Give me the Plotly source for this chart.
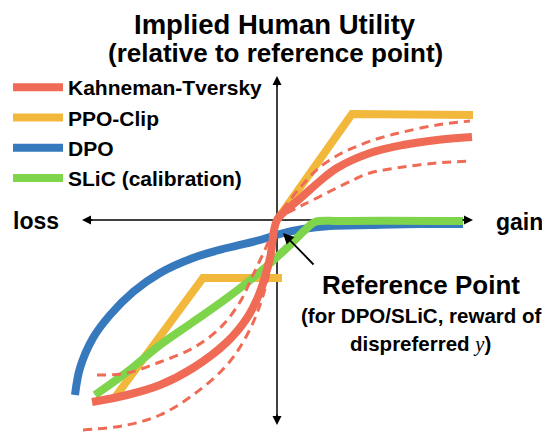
import plotly.graph_objects as go

# Utility relative to the reference point (x: gain(+)/loss(-), y: utility), arbitrary units
kt_x = [-185, -150, -117, -84, -50, -30, -17, -7, 0, 13, 26, 43, 60, 93, 126, 160, 195]
kt_y = [-182, -175, -165, -148, -122, -98, -72, -38, 0, 13, 24, 39, 52, 67, 75, 80, 83]

kt_a_x = [-180, -150, -117, -84, -57, -37, -24, -10, 0, 18, 36, 76, 93, 126, 160, 193]
kt_a_y = [-155, -153, -142, -128, -108, -82, -55, -25, 0, 11, 20, 40, 47, 53, 57, 59]

kt_b_x = [-194, -150, -117, -84, -50, -30, -17, -7, 0, 13, 28, 43, 63, 83, 103, 126, 160, 193]
kt_b_y = [-210, -205, -195, -175, -145, -115, -85, -48, 0, 20, 38, 53, 66, 75, 82, 88, 95, 99]

ppo_gain_x = [0, 75, 196]
ppo_gain_y = [0, 106, 105]
ppo_loss_x = [5, -74, -161]
ppo_loss_y = [-58, -58, -176]

dpo_x = [-202, -197, -184, -167, -144, -117, -84, -50, -17, 3, 26, 53, 93, 143, 186]
dpo_y = [-175, -148, -118, -95, -72, -53, -38, -28, -20, -14, -9, -6, -5, -4, -4]

slic_x = [-182, -150, -117, -84, -50, -17, 13, 28, 38, 63, 186]
slic_y = [-175, -152, -125, -102, -78, -52, -25, -10, -2, -1, -1]

RED = "#EF6B55"
YEL = "#F2B83C"
BLU = "#3679BD"
GRN = "#7ED44B"
LW = 8

fig = go.Figure()
fig.add_trace(go.Scatter(x=dpo_x, y=dpo_y, mode="lines", name="DPO",
                         line=dict(color=BLU, width=LW, shape="spline"), legendrank=3))
fig.add_trace(go.Scatter(x=ppo_gain_x, y=ppo_gain_y, mode="lines", name="PPO-Clip",
                         legendgroup="ppo", line=dict(color=YEL, width=LW), legendrank=2))
fig.add_trace(go.Scatter(x=ppo_loss_x, y=ppo_loss_y, mode="lines", name="PPO-Clip",
                         legendgroup="ppo", showlegend=False, line=dict(color=YEL, width=LW)))
fig.add_trace(go.Scatter(x=slic_x, y=slic_y, mode="lines", name="SLiC (calibration)",
                         line=dict(color=GRN, width=LW, shape="spline"), legendrank=4))
fig.add_trace(go.Scatter(x=kt_a_x, y=kt_a_y, mode="lines", showlegend=False,
                         line=dict(color=RED, width=3, dash="9px,6px", shape="spline")))
fig.add_trace(go.Scatter(x=kt_b_x, y=kt_b_y, mode="lines", showlegend=False,
                         line=dict(color=RED, width=3, dash="9px,6px", shape="spline")))
fig.add_trace(go.Scatter(x=kt_x, y=kt_y, mode="lines", name="Kahneman-Tversky",
                         line=dict(color=RED, width=LW, shape="spline"), legendrank=1))

FONT = "Liberation Sans"
OFF = 8  # page body margin
W, H = 550 - OFF, 435 - OFF

# axes lines
fig.add_shape(type="line", x0=-190, y0=0, x1=190, y1=0, line=dict(color="black", width=1.5), layer="below")
fig.add_shape(type="line", x0=0, y0=139, x1=0, y1=-200, line=dict(color="black", width=1.5), layer="below")
# arrow heads
for (tx, ty, ax, ay) in [(-195, 0, 12, 0), (196, 0, -12, 0), (0, 144, 0, 12), (0, -205, 0, -12)]:
    fig.add_annotation(x=tx, y=ty, ax=ax, ay=ay, axref="pixel", ayref="pixel", xref="x", yref="y",
                       text="", showarrow=True, arrowhead=2, arrowsize=1.2, arrowwidth=1.5,
                       arrowcolor="black")

# reference point annotation arrow
fig.add_annotation(x=6, y=-13, ax=38, ay=-46, axref="x", ayref="y", text="", showarrow=True,
                   arrowhead=2, arrowsize=1.2, arrowwidth=1.8, arrowcolor="black")

def txt(px, py, s, size, anchor="center"):
    fig.add_annotation(x=(px - OFF) / W, y=1 - (py - OFF) / H, xref="paper", yref="paper",
                       text=s, showarrow=False, xanchor=anchor, yanchor="middle",
                       font=dict(family=FONT, size=size, color="black", weight="bold"))

txt(275, 24, "Implied Human Utility", 27.5)
txt(275, 53, "(relative to reference point)", 26)
txt(36, 221, "loss", 23)
txt(519, 222, "gain", 23)
txt(421, 285, "Reference Point", 26)
txt(421, 315, "(for DPO/SLiC, reward of", 20.5)
txt(420, 344,
    "dispreferred <span style=\"font-family:'Liberation Serif';font-style:italic;font-weight:normal\">y</span>)", 20.5)

fig.update_layout(
    width=W, height=H,
    margin=dict(l=0, r=0, t=0, b=0),
    paper_bgcolor="white", plot_bgcolor="white",
    xaxis=dict(range=[OFF - 277, 550 - 277], visible=False, fixedrange=True),
    yaxis=dict(range=[220 - 435, 220 - OFF], visible=False, fixedrange=True),
    showlegend=True,
    legend=dict(x=0.0, y=1 - (67 - OFF) / H, xanchor="left", yanchor="top",
                font=dict(family=FONT, size=21, color="black", weight="bold"),
                bgcolor="rgba(0,0,0,0)", itemwidth=50, tracegroupgap=0,
                traceorder="normal"),
)

fig.write_html("out.html")
